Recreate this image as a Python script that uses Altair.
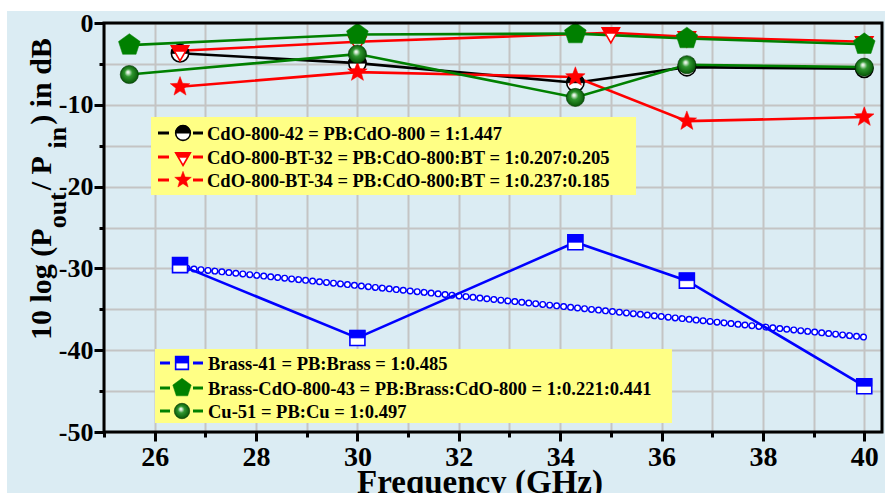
import math
import altair as alt
import pandas as pd

# ---------------------------------------------------------------- data
freq_main = [26.5, 30, 34.3, 36.5, 40]      # CdO-800-42, CdO-800-BT-34, Brass-41
freq_bt32 = [26.5, 30, 35, 36.5, 40]        # CdO-800-BT-32
freq_cu = [25.5, 30, 34.3, 36.5, 40]        # Brass-CdO-800-43, Cu-51

cdo_42 = [-3.7, -4.9, -7.3, -5.4, -5.6]
cdo_bt_32 = [-3.4, -2.3, -1.2, -1.7, -2.3]
cdo_bt_34 = [-7.8, -6.0, -6.6, -12.0, -11.5]
brass_41 = [-29.6, -38.5, -26.8, -31.5, -44.4]
brass_cdo_43 = [-2.7, -1.4, -1.3, -1.9, -2.6]
cu_51 = [-6.3, -3.8, -9.1, -5.1, -5.4]

trend_freq = [26.5, 40]
trend_db = [-29.9, -38.4]

x_ticks = list(range(25, 41))
y_ticks = list(range(0, -55, -5))

legend_upper = [
    "CdO-800-42 = PB:CdO-800 = 1:1.447",
    "CdO-800-BT-32 = PB:CdO-800:BT = 1:0.207:0.205",
    "CdO-800-BT-34 = PB:CdO-800:BT = 1:0.237:0.185",
]
legend_lower = [
    "Brass-41 = PB:Brass = 1:0.485",
    "Brass-CdO-800-43 = PB:Brass:CdO-800 = 1:0.221:0.441",
    "Cu-51 = PB:Cu = 1:0.497",
]

# ---------------------------------------------------------------- layout
W, H = 778, 409
PAD_L, PAD_T, PAD_R, PAD_B = 104, 23, 3, 61
BG = "#dbecf3"
GRID = "#c4c4c4"
FONT = "Liberation Serif"
BLACK, RED, GREEN, BLUE = "#000000", "#ff0000", "#008000", "#0000ff"


def ax(v):  # page x -> plot-relative pixel
    return v - PAD_L


def ay(v):  # page y -> plot-relative pixel
    return v - PAD_T


# ---------------------------------------------------------------- symbol paths
def poly(points):
    return "M" + " L".join(f"{x:.3f},{y:.3f}" for x, y in points) + " Z"


PENTAGON = poly([(math.cos(math.radians(-90 + 72 * k)), math.sin(math.radians(-90 + 72 * k)))
                 for k in range(5)])
STAR = poly([((1.0 if k % 2 == 0 else 0.42) * math.cos(math.radians(-90 + 36 * k)),
              (1.0 if k % 2 == 0 else 0.42) * math.sin(math.radians(-90 + 36 * k)))
             for k in range(10)])
TRI_DOWN = "M0,1.155 L1,-0.577 L-1,-0.577 Z"
TRI_DOWN_TOP = "M-1,-0.577 L1,-0.577 L0.62,0.08 L-0.62,0.08 Z"
HALF_TOP = "M-1,0 A1,1 0 0 1 1,0 Z"
SQUARE = "M-1,-1 L1,-1 L1,1 L-1,1 Z"
SQUARE_TOP = "M-1,-1 L1,-1 L1,0 L-1,0 Z"

SPHERE = {
    "gradient": "radial",
    "x1": 0.42, "y1": 0.36, "r1": 0.0,
    "x2": 0.5, "y2": 0.5, "r2": 0.56,
    "stops": [
        {"offset": 0.0, "color": "#ffffff"},
        {"offset": 0.12, "color": "#d8ecd8"},
        {"offset": 0.38, "color": "#2f962f"},
        {"offset": 1.0, "color": "#004d00"},
    ],
}

# glyph layers for each series: (shape, fill, stroke, strokeWidth)
SYMBOLS = {
    "cdo42": [("circle", "#ffffff", BLACK, 1.6), (HALF_TOP, BLACK, BLACK, 1.0)],
    "bt32": [(TRI_DOWN, "#ffffff", RED, 1.6), (TRI_DOWN_TOP, RED, RED, 0.5)],
    "bt34": [(STAR, RED, RED, 0.5)],
    "brass": [(SQUARE, "#ffffff", BLUE, 1.6), (SQUARE_TOP, BLUE, BLUE, 0.8)],
    "pent": [(PENTAGON, GREEN, GREEN, 0.5)],
    "cu": [("circle", SPHERE, "#003300", 0.6)],
}
SYMBOL_SIZE = {"cdo42": 300, "bt32": 300, "bt34": 420, "brass": 225, "pent": 520, "cu": 330}
LINE_COLOR = {"cdo42": BLACK, "bt32": RED, "bt34": RED, "brass": BLUE, "pent": GREEN, "cu": GREEN}

# ---------------------------------------------------------------- scales / axes
x_scale = alt.Scale(domain=[25, 40.35], nice=False, zero=False)
y_scale = alt.Scale(domain=[-50, 0], nice=False, zero=False)

x_axis = alt.Axis(
    values=x_ticks, title=None, grid=True, gridColor=GRID, gridWidth=2,
    domain=False, ticks=True, tickColor=BLACK, tickWidth=3,
    tickSize={"condition": {"test": "datum.value % 2 === 0", "value": 9}, "value": 5},
    labelExpr="datum.value % 2 === 0 ? '' + datum.value : ''",
    labelFont=FONT, labelFontWeight="bold", labelFontSize=28, labelColor=BLACK,
    labelPadding=2, labelFlush=False, labelOverlap=False,
)
y_axis = alt.Axis(
    values=y_ticks, title=None, grid=True, gridColor=GRID, gridWidth=2,
    domain=False, ticks=True, tickColor=BLACK, tickWidth=3,
    tickSize={"condition": {"test": "datum.value % 10 === 0", "value": 10}, "value": 5},
    labelExpr="datum.value % 10 === 0 ? '' + datum.value : ''",
    labelFont=FONT, labelFontWeight="bold", labelFontSize=26, labelColor=BLACK,
    labelPadding=1, labelFlush=False, labelOverlap=False,
)

X = alt.X("f:Q", scale=x_scale, axis=x_axis)
Y = alt.Y("db:Q", scale=y_scale, axis=y_axis)

one = pd.DataFrame({"k": [0]})


def series_df(freq, vals):
    return pd.DataFrame({"f": freq, "db": vals})


def line_layer(df, color, width=2.6):
    return alt.Chart(df).mark_line(color=color, strokeWidth=width).encode(x=X, y=Y)


def glyph_layers(key, df=None, px=None, py=None, scale=1.0):
    out = []
    for shape, fill, stroke, sw in SYMBOLS[key]:
        mark = alt.Chart(df if df is not None else one).mark_point(
            shape=shape, size=SYMBOL_SIZE[key] * scale, filled=True,
            fill=fill, stroke=stroke, strokeWidth=sw, opacity=1,
        )
        if df is not None:
            out.append(mark.encode(x=X, y=Y))
        else:
            out.append(mark.encode(x=alt.value(px), y=alt.value(py)))
    return out


# ---------------------------------------------------------------- plot marks
series = [
    ("cdo42", freq_main, cdo_42),
    ("bt32", freq_bt32, cdo_bt_32),
    ("bt34", freq_main, cdo_bt_34),
    ("brass", freq_main, brass_41),
    ("pent", freq_cu, brass_cdo_43),
    ("cu", freq_cu, cu_51),
]

layers = []

# white margins at the top and left of the figure
layers.append(alt.Chart(one).mark_rect(color="white").encode(
    x=alt.value(-PAD_L), x2=alt.value(W + PAD_R), y=alt.value(-PAD_T), y2=alt.value(ay(11))))
layers.append(alt.Chart(one).mark_rect(color="white").encode(
    x=alt.value(-PAD_L), x2=alt.value(ax(7)), y=alt.value(-PAD_T), y2=alt.value(H + PAD_B)))

# dotted trend line of small open circles
trend = series_df(trend_freq, trend_db)
layers.append(alt.Chart(trend).mark_line(color=BLUE, strokeWidth=7, strokeCap="round",
                                         strokeDash=[0.01, 7]).encode(x=X, y=Y))
layers.append(alt.Chart(trend).mark_line(color="white", strokeWidth=4.2, strokeCap="round",
                                         strokeDash=[0.01, 7]).encode(x=X, y=Y))

for key, fr, vals in series:
    layers.append(line_layer(series_df(fr, vals), LINE_COLOR[key]))
for key, fr, vals in series:
    layers.extend(glyph_layers(key, df=series_df(fr, vals)))

# plot frame
layers.append(alt.Chart(one).mark_rect(fillOpacity=0, stroke=BLACK, strokeWidth=3).encode(
    x=alt.value(0), x2=alt.value(W), y=alt.value(0), y2=alt.value(H)))

# ---------------------------------------------------------------- legends
def legend_block(box, rows, keys, sym_x, seg_l, seg_r, text_x):
    x0, y0, x1, y1 = box
    out = [alt.Chart(one).mark_rect(color="#ffff85").encode(
        x=alt.value(ax(x0)), x2=alt.value(ax(x1)), y=alt.value(ay(y0)), y2=alt.value(ay(y1)))]
    for (label, ry), key in zip(rows, keys):
        c = LINE_COLOR[key]
        for a, b in (seg_l, seg_r):
            out.append(alt.Chart(one).mark_rule(color=c, strokeWidth=3).encode(
                x=alt.value(ax(a)), x2=alt.value(ax(b)), y=alt.value(ay(ry))))
        out.extend(glyph_layers(key, px=ax(sym_x), py=ay(ry), scale=0.72))
        out.append(alt.Chart(one).mark_text(
            font=FONT, fontWeight="bold", fontSize=18.5, color=BLACK,
            align="left", baseline="middle").encode(
            x=alt.value(ax(text_x)), y=alt.value(ay(ry) + 1), text=alt.value(label)))
    return out


layers.extend(legend_block((151, 117, 636, 195),
                           list(zip(legend_upper, [133, 157, 180])),
                           ["cdo42", "bt32", "bt34"], 183, (158, 169), (193, 203), 207))
layers.extend(legend_block((155, 349, 672, 423),
                           list(zip(legend_lower, [363, 388, 411])),
                           ["brass", "pent", "cu"], 182, (160, 170), (193, 203), 208))

# ---------------------------------------------------------------- axis titles
def title_text(txt, px, py, size, angle=0, align="left"):
    return alt.Chart(one).mark_text(
        font=FONT, fontWeight="bold", fontSize=size, color=BLACK,
        align=align, baseline="alphabetic", angle=angle).encode(
        x=alt.value(px), y=alt.value(py), text=alt.value(txt))


layers.append(title_text("Frequency (GHz)", ax(480), ay(493), 33, align="center"))

# vertical title with subscripts, written bottom-to-top
MAIN, SUB = 30, 26
base_main, base_sub = ax(51), ax(66)
y_pos = 340
for txt, is_sub, em in [("10 log (P", False, 3.722), ("out", True, 1.389),
                        (" / P", False, 1.389), ("in", True, 0.834),
                        (") in dB", False, 2.89)]:
    size = SUB if is_sub else MAIN
    layers.append(title_text(txt, base_sub if is_sub else base_main, ay(y_pos), size, angle=270))
    y_pos -= em * size + (2 if is_sub else 0)

chart = alt.layer(*layers).properties(
    width=W, height=H,
    padding={"left": PAD_L, "top": PAD_T, "right": PAD_R, "bottom": PAD_B},
    autosize=alt.AutoSizeParams(type="none"),
    background=BG,
).configure_view(
    stroke=None, fill=BG
).configure_axis(
    labelFont=FONT, labelFontWeight="bold", labelColor=BLACK
)

chart.save("out.html", embed_options={"renderer": "svg", "actions": False})
